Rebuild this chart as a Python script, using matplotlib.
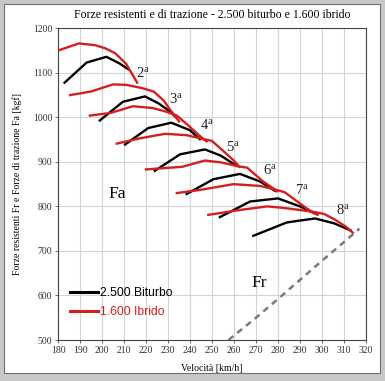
import matplotlib
matplotlib.use("Agg")
import matplotlib.pyplot as plt
from matplotlib.patches import Rectangle

# ================= DATA =================
# 2.500 Biturbo (black), one curve per gear: speed [km/h], force [kgf]
BT2_V = [183, 193, 202, 208, 212]
BT2_F = [1078, 1123, 1136, 1121, 1108]
BT3_V = [199, 209.5, 219.5, 225.5, 231, 233]
BT3_F = [993, 1035, 1047, 1032, 1013, 1003]
BT4_V = [210.5, 221, 231.5, 240, 244.5]
BT4_F = [939, 976, 988, 971, 951]
BT5_V = [224, 235.5, 246.8, 254, 261.2]
BT5_F = [880, 917, 928, 914, 891]
BT6_V = [238.5, 250.6, 262.7, 271.8, 278.6]
BT6_F = [828, 861, 873, 856, 835]
BT7_V = [253.6, 267.3, 280, 290, 296.8]
BT7_F = [776, 811, 818, 800, 784]
BT8_V = [268.8, 284, 296.8, 305.5, 313]
BT8_F = [734, 764, 773, 762, 746]

# 1.600 Ibrido (red)
IB2_V = [180, 189.5, 197, 201.5, 206, 211, 216]
IB2_F = [1150, 1166, 1162, 1155, 1144, 1120, 1078]
IB3_V = [185.5, 195, 205, 211, 218, 223.5, 228, 231, 235]
IB3_F = [1050, 1058, 1074, 1073, 1066, 1058, 1038, 1017, 991]
IB4_V = [194.5, 204, 214, 223, 229, 234, 238.5, 244.5, 247.5]
IB4_F = [1004, 1010, 1025, 1021, 1013, 1004, 985, 958, 946]
IB5_V = [206.7, 217.3, 228.6, 238.5, 244.5, 250, 255, 259.7, 262.5]
IB5_F = [941, 953, 963, 960, 953, 947, 925, 904, 889]
IB6_V = [220, 236.5, 246.7, 254, 262, 266, 273.2, 277.7, 279.5]
IB6_F = [883, 889, 903, 899, 890, 887, 856, 841, 834]
IB7_V = [234, 244.5, 259.7, 271.8, 278.6, 283, 292.9, 296, 298]
IB7_F = [830, 837, 850, 846, 838, 832, 796, 786, 781]
IB8_V = [248.3, 262.7, 275, 282, 296, 301, 306, 311, 314]
IB8_F = [781, 792, 800, 797, 788, 783, 770, 754, 741]

# resistance force Fr
FR_V = [257.5, 270, 280, 290, 300, 310, 317]
FR_F = [500, 550, 592, 635, 678, 720, 750]

GEARS = ["2", "3", "4", "5", "6", "7", "8"]
GEAR_LABEL_V = [218.6, 233.6, 247.7, 259.7, 276.4, 290.8, 309.7]
GEAR_LABEL_F = [1100, 1043, 983, 934, 882, 837, 792]

X_TICKS = list(range(180, 321, 10))
Y_TICKS = list(range(500, 1201, 100))
# =========================================

SERIF = "Liberation Serif"
SANS = "Liberation Sans"
RED = "#d41f1f"
plt.rcParams["mathtext.fontset"] = "custom"
plt.rcParams["mathtext.rm"] = SERIF
plt.rcParams["mathtext.it"] = SERIF + ":italic"

fig = plt.figure(figsize=(3.85, 3.81), dpi=100)
fig.patch.set_facecolor("#c8c8c8")
# inner white panel with a thin dark edge (window-like frame)
fig.patches.append(Rectangle((4 / 385, 8 / 381), 376 / 385, 369 / 381,
                             transform=fig.transFigure, facecolor="white",
                             edgecolor="#707070", linewidth=0.8, zorder=-10))

ax = fig.add_axes([58 / 385, 1 - 340 / 381, 308 / 385, 311.7 / 381])
ax.set_zorder(1)
ax.set_facecolor("white")

bt = [(BT2_V, BT2_F), (BT3_V, BT3_F), (BT4_V, BT4_F), (BT5_V, BT5_F),
      (BT6_V, BT6_F), (BT7_V, BT7_F), (BT8_V, BT8_F)]
ib = [(IB2_V, IB2_F), (IB3_V, IB3_F), (IB4_V, IB4_F), (IB5_V, IB5_F),
      (IB6_V, IB6_F), (IB7_V, IB7_F), (IB8_V, IB8_F)]

h_bt = h_ib = None
for v, f in bt:
    h_bt, = ax.plot(v, f, color="black", lw=1.7, zorder=3)
for v, f in ib:
    h_ib, = ax.plot(v, f, color=RED, lw=1.7, zorder=4)

ax.plot(FR_V, FR_F, color="#7a7a7a", lw=1.8, dashes=(2.5, 2.0), zorder=3)

for g, xv, yv in zip(GEARS, GEAR_LABEL_V, GEAR_LABEL_F):
    ax.text(xv, yv, r"$\mathrm{%s^a}$" % g, fontsize=10.5, ha="center",
            va="center", color="#222222", zorder=5)

ax.text(207, 828, "Fa", family=SERIF, fontsize=12.5, ha="center", va="center")
ax.text(271.4, 628, "Fr", family=SERIF, fontsize=12.5, ha="center", va="center")

ax.set_xlim(180, 320)
ax.set_ylim(500, 1200)
ax.set_xticks(X_TICKS)
ax.set_yticks(Y_TICKS)
ax.grid(True, color="#d4d4d4", lw=0.8)
ax.set_axisbelow(True)
for lab in ax.get_xticklabels() + ax.get_yticklabels():
    lab.set_family(SERIF)
    lab.set_fontsize(7)
    lab.set_color("#333333")
ax.tick_params(length=2, width=0.6, color="#555555", pad=2)
for s in ax.spines.values():
    s.set_color("#444444")
    s.set_linewidth(0.8)

ax.set_xlabel("Velocità [km/h]", family=SERIF, fontsize=7, labelpad=7)
ax.set_ylabel("Forze resistenti Fr e Forze di trazione Fa [kgf]",
              family=SERIF, fontsize=7, labelpad=8)
fig.text(212 / 385, 1 - 15 / 381,
         "Forze resistenti e di trazione - 2.500 biturbo e 1.600 ibrido",
         family=SERIF, fontsize=8.5, ha="center", va="center")

leg = ax.legend([h_bt, h_ib], ["2.500 Biturbo", "1.600 Ibrido"],
                loc="lower left", bbox_to_anchor=(0.005, 0.035),
                frameon=False, prop={"family": SANS, "size": 8.7},
                handlelength=2.3, handletextpad=0.15, labelspacing=0.6,
                labelcolor="linecolor")
for ln in leg.get_lines():
    ln.set_linewidth(2.2)

fig.savefig("out.png", dpi=100, facecolor=fig.get_facecolor())
